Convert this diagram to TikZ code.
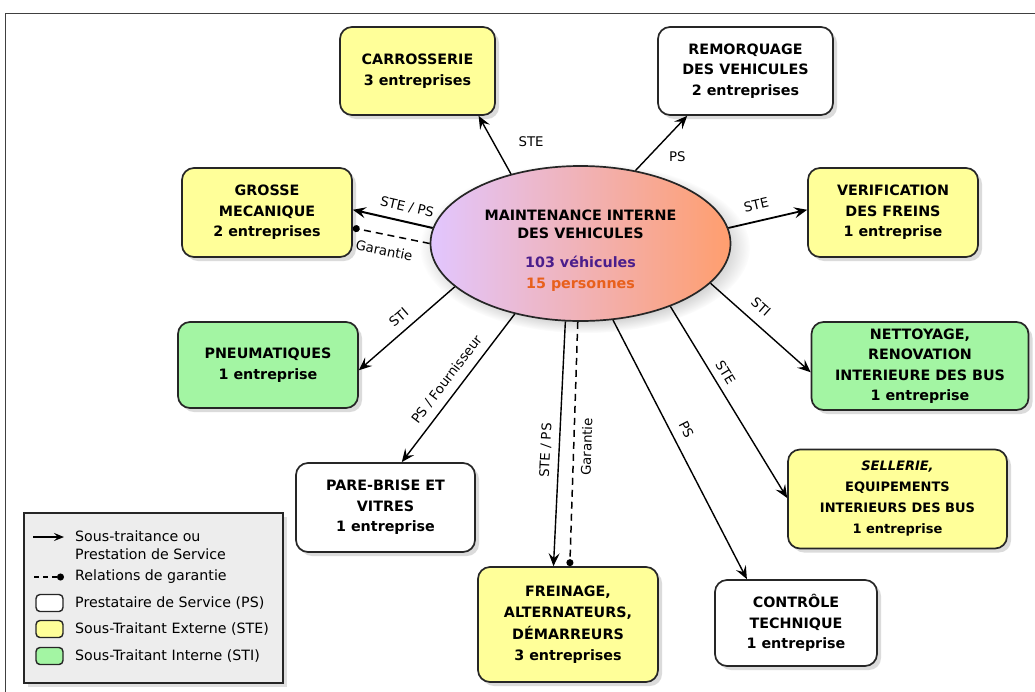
\documentclass[tikz,border=0pt]{standalone}
\usepackage{fontspec}
\setmainfont{DejaVu Sans}
\usetikzlibrary{arrows.meta,shapes.geometric,shadows,calc,positioning}

\definecolor{steyellow}{HTML}{FFFF99}
\definecolor{stigreen}{HTML}{A3F5A3}
\definecolor{ellleft}{HTML}{E2C6FF}
\definecolor{ellright}{HTML}{FF9E6E}
\definecolor{nbpurple}{HTML}{4A1E8C}
\definecolor{nborange}{HTML}{E8601C}

\tikzset{
  entbox/.style={draw=black!85, line width=1.7pt, rounded corners=12pt, align=center, inner sep=2pt,
    font=\fontsize{14.3}{20.5}\selectfont\bfseries,
    drop shadow={shadow xshift=4pt, shadow yshift=-4pt, opacity=.28}},
  ps/.style={entbox, fill=white},
  ste/.style={entbox, fill=steyellow},
  sti/.style={entbox, fill=stigreen},
  rel/.style={line width=1.4pt, -{Stealth[length=13pt,width=11pt,inset=5pt]}},
  gar/.style={line width=1.5pt, dash pattern=on 7pt off 5pt, -{Circle[length=7pt]}},
  lbl/.style={font=\fontsize{13.3}{15}\selectfont, inner sep=3pt},
  legtxt/.style={font=\fontsize{14.2}{18}\selectfont, anchor=west, align=left, inner sep=0pt},
  legkey/.style={draw=black!85, line width=1.4pt, rounded corners=4pt, minimum width=27pt, minimum height=17pt, inner sep=0pt},
}

\begin{document}
\begin{tikzpicture}[x=1pt,y=-1pt]
\useasboundingbox (0,0) rectangle (1035,691);
\clip (0,0) rectangle (1035,691);
\fill[white] (0,0) rectangle (1035,691);
\draw[line width=1pt, black!75] (5,13) rectangle (1050,700);

% centre
\node[ellipse, draw=black!85, line width=1.7pt, minimum width=300pt, minimum height=155pt, inner sep=0pt,
  left color=ellleft, right color=ellright, align=center,
  circular drop shadow={shadow xshift=4pt, shadow yshift=-4pt, opacity=.35},
  font=\fontsize{14.3}{18}\selectfont\bfseries] at (580.5,243.5) (maint)
  {\rule{0pt}{24pt}MAINTENANCE INTERNE\\DES VEHICULES\\[11pt]\textcolor{nbpurple}{103 véhicules}\\[3pt]\textcolor{nborange}{15 personnes}};

% entreprises
\node[ste, minimum width=155pt, minimum height=88pt] at (417.5,71) (carr) {CARROSSERIE\\3 entreprises};
\node[ps, minimum width=175pt, minimum height=88pt] at (745.5,71) (remo) {REMORQUAGE\\DES VEHICULES\\2 entreprises};
\node[ste, minimum width=170pt, minimum height=89pt] at (267,212.5) (gros) {GROSSE\\MECANIQUE\\2 entreprises};
\node[ste, minimum width=170pt, minimum height=89pt] at (893,212.5) (verif) {VERIFICATION\\DES FREINS\\1 entreprise};
\node[sti, minimum width=180pt, minimum height=86pt] at (268,365) (pneu) {PNEUMATIQUES\\1 entreprise};
\node[sti, minimum width=217pt, minimum height=88pt] at (920,366) (nett) {NETTOYAGE,\\RENOVATION\\INTERIEURE DES BUS\\1 entreprise};
\node[ps, minimum width=179pt, minimum height=89pt] at (385.5,507.5) (pare) {PARE-BRISE ET\\VITRES\\1 entreprise};
\node[ste, minimum width=219pt, minimum height=99pt, font=\fontsize{13}{21}\selectfont\bfseries] at (897.5,499) (sell)
  {\textit{SELLERIE,}\\EQUIPEMENTS\\INTERIEURS DES BUS\\1 entreprise};
\node[ste, minimum width=180pt, minimum height=115pt, font=\fontsize{14.3}{21.5}\selectfont\bfseries] at (568,624.5) (frein)
  {FREINAGE,\\ALTERNATEURS,\\DÉMARREURS\\3 entreprises};
\node[ps, minimum width=162pt, minimum height=86pt] at (796,623) (contr) {CONTRÔLE\\TECHNIQUE\\1 entreprise};

% relations
\draw[rel] (maint.135) -- node[lbl, pos=.56, right=22pt] {STE} ($(carr.south west)!.89!(carr.south east)$);
\draw[rel] (maint.53) -- node[lbl, pos=.25, right=17pt] {PS} ($(remo.south west)!.17!(remo.south east)$);
\draw[rel, line width=2pt] (maint.174) -- node[lbl, pos=.36, sloped, above=5pt] {STE / PS} ($(gros.north east)!.47!(gros.south east)$);
\draw[gar] (maint.180) -- node[lbl, pos=.55, sloped, below=7pt] {Garantie} ($(gros.north east)!.67!(gros.south east)$);
\draw[rel, line width=1.8pt] (maint.6) -- node[lbl, pos=.4, sloped, above=7pt] {STE} ($(verif.north west)!.47!(verif.south west)$);
\draw[rel] (maint.199) -- node[lbl, pos=.49, sloped, above=5pt] {STI} ($(pneu.north east)!.56!(pneu.south east)$);
\draw[rel] (maint.227) -- node[lbl, pos=.5, sloped, above=5pt] {PS / Fournisseur} ($(pare.north west)!.59!(pare.north east)$);
\draw[rel] (maint.259) -- node[lbl, pos=.53, sloped, above=4pt] {STE / PS} ($(frein.north west)!.42!(frein.north east)$);
\draw[gar] (maint.268) -- node[lbl, pos=.51, sloped, below=4pt] {Garantie} ($(frein.north west)!.51!(frein.north east)$);
\draw[rel] (maint.293) -- node[lbl, pos=.45, sloped, above=6pt] {PS} ($(contr.north west)!.2!(contr.north east)$);
\draw[rel] (maint.325) -- node[lbl, pos=.38, sloped, above=4pt] {STE} ($(sell.north west)!.49!(sell.south west)$);
\draw[rel] (maint.343) -- node[lbl, pos=.4, sloped, above=7pt] {STI} ($(nett.north west)!.57!(nett.south west)$);

% legende
\draw[line width=1.2pt, black!85, fill=black!7, drop shadow={shadow xshift=4pt, shadow yshift=-4pt, opacity=.25}]
  (24,513) rectangle (283,683);
\coordinate (la1) at (33,537);
\coordinate (la2) at (64,537);
\draw[line width=1.3pt, -{Stealth[length=10pt,width=8pt,inset=4pt]}] (la1) -- (la2);
\node[legtxt] at (75,545) (lt1) {Sous-traitance ou\\Prestation de Service};
\coordinate (lg1) at (34,577);
\coordinate (lg2) at (64,577);
\draw[gar, line width=1.3pt, dash pattern=on 5pt off 4pt] (lg1) -- (lg2);
\node[legtxt] at (75,577) (lt2) {Relations de garantie};
\node[legkey, fill=white] at (49.5,603) (lk1) {};
\node[legtxt] at (75,603) (lt3) {Prestataire de Service (PS)};
\node[legkey, fill=steyellow] at (49.5,629) (lk2) {};
\node[legtxt] at (75,629) (lt4) {Sous-Traitant Externe (STE)};
\node[legkey, fill=stigreen] at (49.5,656) (lk3) {};
\node[legtxt] at (75,656) (lt5) {Sous-Traitant Interne (STI)};
\end{tikzpicture}
\end{document}
